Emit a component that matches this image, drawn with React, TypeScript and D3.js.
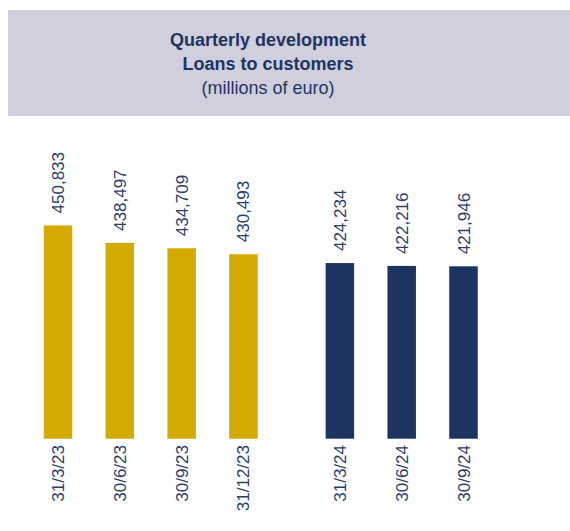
import React, {useEffect, useRef} from 'react';
import * as d3 from 'd3';

const categories = ['31/3/23', '30/6/23', '30/9/23', '31/12/23', '31/3/24', '30/6/24', '30/9/24'];
const values = [450833, 438497, 434709, 430493, 424234, 422216, 421946];
const groups = [0, 0, 0, 0, 1, 1, 1];
const groupColors = ['#d4aa00', '#1d3461'];
const titleLines = ['Quarterly development', 'Loans to customers', '(millions of euro)'];

const W = 570;
const H = 531;

const App = () => {
    const svgRef = useRef<SVGSVGElement | null>(null);

    useEffect(() => {
        const svg = d3.select(svgRef.current);
        svg.selectAll('*').remove();
        const font = 'Liberation Sans, Arial, sans-serif';

        // header band
        svg.append('rect')
            .attr('x', 8).attr('y', 10)
            .attr('width', W - 8).attr('height', 106)
            .attr('fill', '#cfcfdd');

        svg.append('g')
            .selectAll('text')
            .data(titleLines)
            .join('text')
            .attr('x', 268)
            .attr('y', (d, i) => [45.5, 69.5, 94][i])
            .attr('text-anchor', 'middle')
            .attr('font-family', font)
            .attr('font-size', 18)
            .attr('font-weight', (d, i) => i < 2 ? 'bold' : 'normal')
            .attr('fill', '#1f3461')
            .text(d => d);

        // position index with a gap between years
        const pos = categories.map((c, i) => i + (groups[i] ? 0.56 : 0));
        const x = d3.scaleLinear().domain([0, 6.56]).range([58, 463.5]);
        const y = d3.scaleLinear().domain([300000, 460000]).range([438.7, 212.5]);
        const bw = 28.5;

        const g = svg.append('g');
        g.selectAll('rect')
            .data(values)
            .join('rect')
            .attr('x', (d, i) => x(pos[i]) - bw / 2)
            .attr('y', d => y(d))
            .attr('width', bw)
            .attr('height', d => y.range()[0] - y(d))
            .attr('fill', (d, i) => groupColors[groups[i]]);

        const fmt = d3.format(',');
        g.selectAll('text.val')
            .data(values)
            .join('text')
            .attr('class', 'val')
            .attr('transform', (d, i) => `translate(${x(pos[i]) + 6},${y(d) - 12}) rotate(-90)`)
            .attr('font-family', font)
            .attr('font-size', 17)
            .attr('fill', '#2b3d6b')
            .text(d => fmt(d));

        g.selectAll('text.cat')
            .data(categories)
            .join('text')
            .attr('class', 'cat')
            .attr('transform', (d, i) => `translate(${x(pos[i]) + 6},445) rotate(-90)`)
            .attr('text-anchor', 'end')
            .attr('font-family', font)
            .attr('font-size', 17)
            .attr('fill', '#2b3d6b')
            .text(d => d);
    }, []);

    return (
        <svg ref={svgRef} width={W} height={H}
             style={{position: 'absolute', left: 0, top: 0, background: '#fff'}}/>
    );
};

export default App;
